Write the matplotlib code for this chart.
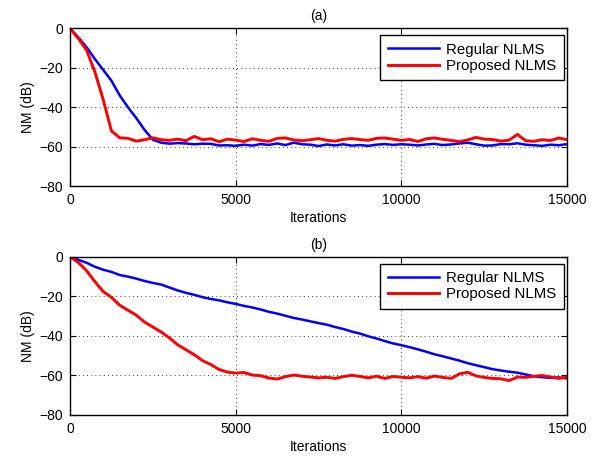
import numpy as np
import matplotlib
matplotlib.use("Agg")
import matplotlib.pyplot as plt

plt.rcParams['font.family'] = ['Liberation Sans', 'DejaVu Sans']

iterations = np.arange(0, 15001, 250)

reg_a = [0, -4.5, -9.5, -15.5, -21, -26.5, -34, -40, -45.5, -51.5, -56.5, -58, -58.5, -58.2, -58.4,
         -58.8, -58.5, -58.6, -59.4, -59.3, -59.6, -59.0, -59.5, -58.7, -59.1, -58.4, -59.2, -58.0,
         -58.8, -59.0, -59.7, -58.9, -59.4, -58.8, -59.5, -59.2, -59.6, -59.0, -58.7, -59.1, -58.8,
         -59.0, -59.4, -58.9, -58.6, -59.2, -58.9, -58.4, -58.0, -58.8, -59.5, -59.4, -58.7, -58.8,
         -58.3, -59.0, -59.3, -59.6, -59.0, -59.3, -58.7]
prop_a = [0, -5, -11, -22, -36, -52, -55.5, -55.8, -57.2, -56.5, -55.5, -56.5, -56.8, -56.2, -57.0,
          -54.8, -56.5, -56.0, -57.5, -56.2, -56.7, -57.4, -56.0, -56.8, -57.3, -55.8, -55.6, -56.6,
          -57.0, -56.5, -55.9, -56.8, -57.2, -56.3, -55.9, -56.4, -56.8, -55.8, -55.6, -56.2, -56.8,
          -56.4, -57.4, -56.0, -55.6, -56.3, -56.8, -57.5, -56.6, -55.3, -56.2, -56.4, -57.2, -56.7,
          -53.8, -57.0, -57.3, -56.5, -56.9, -55.6, -56.5]
reg_b = [0, -1.5, -3, -5, -6.5, -7.6, -9.2, -10.0, -11.0, -12.2, -13.2, -14.0, -15.5, -17.0, -18.2,
         -19.2, -20.4, -21.3, -22.0, -23.0, -23.8, -24.8, -25.6, -26.6, -27.8, -28.7, -29.8, -30.9,
         -31.7, -32.6, -33.5, -34.3, -35.5, -36.5, -37.8, -38.8, -40.2, -41.3, -42.6, -43.8, -44.7,
         -45.7, -46.8, -48.0, -49.3, -50.3, -51.4, -52.5, -53.8, -54.8, -55.8, -56.8, -57.5, -58.1,
         -58.6, -59.5, -60.4, -60.9, -61.2, -61.0, -61.5]
prop_b = [0, -2.8, -7, -12.5, -17.5, -20.5, -24.5, -27, -29.5, -33, -35.5, -38, -41, -44.5, -47,
          -49.5, -52.5, -54.5, -57, -58.3, -58.8, -58.5, -59.8, -60.1, -61.3, -61.8, -60.6, -59.8,
          -60.4, -60.8, -61.2, -60.9, -61.5, -60.6, -59.9, -60.5, -61.2, -60.4, -61.5, -60.5, -60.9,
          -61.2, -60.6, -61.4, -60.3, -61.0, -61.5, -59.2, -58.4, -60.2, -61.0, -61.5, -61.7, -62.6,
          -60.8, -61.0, -60.4, -60.0, -60.8, -61.5, -60.8]

labels = ['Regular NLMS', 'Proposed NLMS']
titles = ['(a)', '(b)']
xticks = [0, 5000, 10000, 15000]
yticks = [-80, -60, -40, -20, 0]

fig = plt.figure(figsize=(6.04, 4.61), dpi=100)
axes = [fig.add_axes([0.1159, 0.5965, 0.823, 0.3417]),
        fig.add_axes([0.1159, 0.0998, 0.823, 0.3430])]

for ax, reg, prop, title in zip(axes, [reg_a, reg_b], [prop_a, prop_b], titles):
    ax.plot(iterations, reg, color='#0000ff', lw=1.8, label=labels[0])
    ax.plot(iterations, prop, color='#ff0000', lw=2.1, label=labels[1])
    ax.set_xlim(0, 15000)
    ax.set_ylim(-80, 0)
    ax.set_xticks(xticks)
    ax.set_yticks(yticks)
    ax.set_yticklabels(['\u221280', '\u221260', '\u221240', '\u221220', '0'])
    ax.grid(True, linestyle=(0, (1, 4)), color='black', lw=0.6)
    ax.tick_params(direction='in', top=True, right=True, labelsize=10, length=4, width=0.8, pad=5)
    for s in ax.spines.values():
        s.set_linewidth(1.0)
    ax.set_xlabel('Iterations', fontsize=10, labelpad=3)
    ax.set_ylabel('NM (dB)', fontsize=10, labelpad=3)
    ax.set_title(title, fontsize=10, pad=6)
    leg = ax.legend(loc='upper right', bbox_to_anchor=(0.994, 0.958), borderaxespad=0,
                    fontsize=10.8, fancybox=False, edgecolor='black',
                    framealpha=1, handlelength=3.4, borderpad=0.5,
                    labelspacing=0.15, handletextpad=0.5)
    leg.get_frame().set_linewidth(1.0)

fig.savefig('out.png', dpi=100)
